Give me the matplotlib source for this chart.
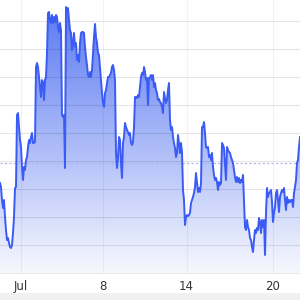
import numpy as np
import matplotlib.pyplot as plt
from matplotlib.colors import LinearSegmentedColormap
from matplotlib.patches import Rectangle

# price series (arbitrary units), one sample per step
t = np.arange(301)
price = [
    90, 86, 73, 65, 73, 56, 43, 33, 35, 30, 26, 25, 28, 40, 56, 85, 86, 158, 160, 146,
    133, 126, 106, 93, 106, 103, 113, 116, 126, 133, 130, 136, 140, 130, 130, 131, 206, 210, 206, 196,
    186, 176, 193, 191, 173, 193, 196, 220, 260, 261, 253, 250, 258, 250, 256, 251, 258, 256, 246, 241,
    250, 243, 158, 156, 158, 105, 266, 261, 265, 253, 243, 240, 223, 230, 240, 226, 230, 213, 218, 211,
    230, 240, 241, 241, 240, 226, 216, 208, 198, 196, 201, 196, 203, 220, 236, 249, 236, 230, 220, 218,
    206, 193, 180, 170, 166, 180, 183, 190, 196, 196, 198, 200, 206, 208, 203, 193, 120, 105, 116, 136,
    133, 110, 95, 130, 136, 150, 146, 143, 141, 138, 140, 130, 128, 131, 146, 176, 176, 175, 178, 176,
    186, 196, 200, 198, 206, 201, 193, 195, 168, 195, 196, 198, 193, 198, 186, 190, 183, 180, 173, 174,
    171, 170, 166, 160, 181, 175, 170, 173, 183, 190, 153, 143, 146, 136, 130, 125, 116, 120, 138, 130,
    120, 130, 121, 83, 73, 48, 56, 58, 57, 58, 60, 70, 73, 76, 80, 86, 100, 90, 81, 85,
    81, 90, 146, 146, 151, 140, 126, 125, 126, 116, 118, 113, 120, 106, 98, 93, 95, 91, 83, 91,
    88, 90, 130, 128, 125, 108, 93, 126, 123, 121, 120, 116, 113, 110, 103, 96, 91, 96, 91, 95,
    90, 93, 91, 98, 73, 46, 43, 53, 46, 43, 35, 33, 26, 21, 33, 43, 40, 45, 43, 55,
    51, 40, 53, 46, 53, 18, 60, 85, 76, 80, 81, 83, 71, 51, 60, 66, 80, 83, 73, 61,
    76, 80, 83, 81, 85, 73, 63, 76, 70, 73, 71, 73, 73, 66, 80, 86, 93, 110, 113, 126,
    136,
]
prev_close = 110
tick_pos = [20.5, 103, 186.5, 272.5]
tick_labels = ["Jul", "8", "14", "20"]
grid_levels = [28, 56, 84, 112, 140, 168, 196, 224, 252]

fig = plt.figure(figsize=(3, 3), dpi=100)
fig.patch.set_facecolor("white")
ax = fig.add_axes([0, 0.09, 1, 0.91])
ax.set_xlim(0, 300)
ax.set_ylim(0, 273)

# gradient fill under the line
cmap = LinearSegmentedColormap.from_list("fill", ["#f7f8fe", "#5676f1"])
grad = np.linspace(0, 1, 256).reshape(-1, 1)
img = ax.imshow(grad, cmap=cmap, aspect="auto", origin="lower",
                extent=[0, 300, 0, 273], zorder=1)
poly = ax.fill_between(t, price, 0, color="none", lw=0)
clip = poly.get_paths()[0]
img.set_clip_path(clip, transform=ax.transData)

for lv in grid_levels:
    ax.axhline(lv, color="black", alpha=0.1, lw=0.8, zorder=2)
for xp in tick_pos:
    ax.axvline(xp, color="black", alpha=0.05, lw=0.8, zorder=2)
ax.axhline(prev_close, color="#a9b3ee", lw=0.8, ls=(0, (2, 2)), zorder=2)

ax.plot(t, price, color="#3b5bf5", lw=1.4, zorder=3)

ax.set_xticks(tick_pos)
ax.set_xticklabels(tick_labels, fontsize=8.5, color="#333333")
ax.tick_params(axis="x", length=0, pad=5)
ax.set_yticks([])
for s in ["top", "left", "right"]:
    ax.spines[s].set_visible(False)
ax.spines["bottom"].set_color("#e8e8e8")
ax.spines["bottom"].set_linewidth(0.8)

# grey strip at the very bottom
fig.add_artist(Rectangle((0, 0), 1, 7 / 300, transform=fig.transFigure,
                         facecolor="#f1f1f1", edgecolor="none"))

fig.savefig("out.png", dpi=100)
